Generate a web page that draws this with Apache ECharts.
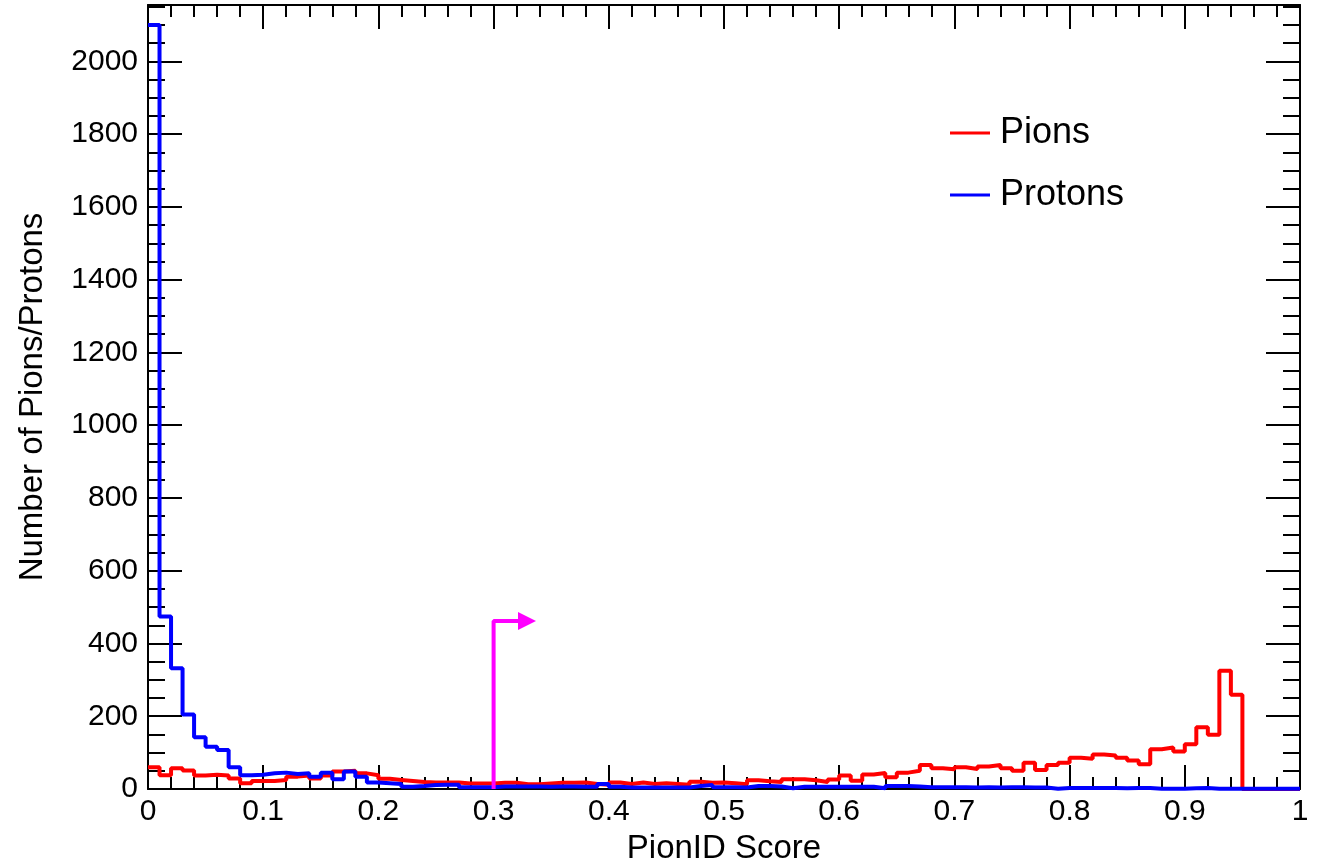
<!DOCTYPE html>
<html>
<head>
<meta charset="utf-8">
<script src="https://cdn.jsdelivr.net/npm/echarts@6/dist/echarts.min.js"></script>
<style>html,body{margin:0;padding:0;background:#fff;}#chart{width:1327px;height:862px;}</style>
</head>
<body>
<div id="chart"></div>
<script>
// ---- data (100 bins of width 0.01 on PionID Score 0..1) ----
const binWidth = 0.01;
const pions = [
  60, 38, 57, 51, 37, 39, 37, 29, 16, 22,
  22, 25, 34, 37, 29, 37, 48, 50, 43, 38,
  28, 25, 22, 19, 18, 18, 18, 15, 15, 15,
  17, 17, 13, 13, 15, 17, 17, 18, 14, 12,
  18, 14, 18, 14, 16, 14, 12, 20, 17, 18,
  16, 13, 24, 21, 19, 27, 27, 24, 19, 26,
  37, 23, 40, 44, 32, 45, 50, 66, 57, 54,
  60, 55, 62, 66, 57, 50, 72, 52, 66, 72,
  86, 83, 95, 92, 86, 78, 68, 109, 114, 103,
  123, 170, 149, 325, 259, 0, 0, 0, 0, 0
];
const protons = [
  2100, 474, 332, 205, 142, 116, 107, 60, 38, 39,
  43, 45, 41, 43, 34, 45, 27, 48, 34, 18,
  16, 14, 6, 8, 11, 12, 12, 5, 5, 5,
  7, 7, 7, 7, 6, 7, 7, 6, 6, 14,
  6, 4, 4, 4, 4, 4, 4, 8, 11, 5,
  5, 4, 8, 8, 7, 2, 6, 6, 6, 6,
  6, 6, 6, 2, 8, 8, 7, 5, 5, 5,
  5, 4, 5, 4, 5, 5, 4, 4, 1, 3,
  3, 3, 3, 3, 2, 3, 3, 1, 1, 1,
  2, 3, 1, 1, 1, 1, 1, 1, 1, 1
];
const seriesNames = ['Pions', 'Protons'];
const cutValue = 0.3;        // PionID cut
const arrowHeight = 462;     // height of the cut marker
const arrowEnd = 0.329;      // x where the arrow head sits
const xTicks = [0, 0.1, 0.2, 0.3, 0.4, 0.5, 0.6, 0.7, 0.8, 0.9, 1];
const yTicks = [0, 200, 400, 600, 800, 1000, 1200, 1400, 1600, 1800, 2000];
const xMax = 1, yMax = 2155;

// ---- helpers ----
const FONT = 'Liberation Sans, Arial, Helvetica, sans-serif';
const xMinor = []; for (let i = 0; i <= 50; i++) xMinor.push(Math.round(i * 2) / 100);
const yMinor = []; for (let v = 0; v <= yMax; v += 50) yMinor.push(v);

function steps(values) {
  const pts = values.map((v, i) => [Math.round(i * binWidth * 100) / 100, v]);
  pts.push([xMax, values[values.length - 1]]);
  return pts;
}

function mkAxis(type, position, ticks, len, showLine, labels, extra) {
  const isX = type === 'x';
  return Object.assign({
    type: 'value',
    position: position,
    min: 0,
    max: isX ? xMax : yMax,
    axisLine: { show: showLine, onZero: false, lineStyle: { color: '#000', width: 2 } },
    axisTick: { show: true, inside: true, length: len, customValues: ticks, lineStyle: { color: '#000', width: 2 } },
    axisLabel: labels ? {
      show: true, customValues: ticks, margin: isX ? 8 : 10,
      fontSize: 30, color: '#000', fontFamily: FONT,
      formatter: v => String(v)
    } : { show: false },
    splitLine: { show: false },
    minorTick: { show: false }
  }, extra || {});
}

const chart = echarts.init(document.getElementById('chart'), null, { renderer: 'canvas' });
chart.setOption({
  animation: false,
  backgroundColor: '#fff',
  grid: { left: 148, right: 27, top: 5, bottom: 73, containLabel: false, outerBoundsMode: 'none' },
  legend: {
    data: seriesNames.map(n => ({ name: n, icon: 'rect' })),
    orient: 'vertical',
    left: 945, top: 110,
    itemWidth: 40, itemHeight: 3, itemGap: 26,
    textStyle: { fontSize: 36, lineHeight: 36, color: '#000', fontFamily: FONT, padding: [0, 0, 0, 5] },
    selectedMode: false
  },
  xAxis: [
    mkAxis('x', 'bottom', xTicks, 24, true, true, {
      name: 'PionID Score', nameLocation: 'middle', nameGap: 43,
      nameTextStyle: { fontSize: 33, color: '#000', fontFamily: FONT }
    }),
    mkAxis('x', 'bottom', xMinor, 12, false, false),
    mkAxis('x', 'top', xTicks, 24, true, false),
    mkAxis('x', 'top', xMinor, 12, false, false)
  ],
  yAxis: [
    mkAxis('y', 'left', yTicks, 34, true, true, {
      name: 'Number of Pions/Protons', nameLocation: 'middle', nameGap: 99,
      nameTextStyle: { fontSize: 33, color: '#000', fontFamily: FONT }
    }),
    mkAxis('y', 'left', yMinor, 17, false, false),
    mkAxis('y', 'right', yTicks, 34, true, false),
    mkAxis('y', 'right', yMinor, 17, false, false)
  ],
  series: [
    {
      name: seriesNames[0], type: 'line', step: 'end', data: steps(pions),
      symbol: 'none', color: '#ff0000',
      lineStyle: { color: '#ff0000', width: 4 }, z: 3
    },
    {
      name: seriesNames[1], type: 'line', step: 'end', data: steps(protons),
      symbol: 'none', color: '#0000ff',
      lineStyle: { color: '#0000ff', width: 4 }, z: 4
    },
    {
      name: 'cut', type: 'line', symbol: 'none', showSymbol: true,
      color: '#ff00ff', lineStyle: { color: '#ff00ff', width: 4 }, z: 5,
      data: [
        [cutValue, 0],
        [cutValue, arrowHeight],
        { value: [arrowEnd, arrowHeight], symbol: 'triangle', symbolSize: [18, 18], symbolRotate: -90,
          itemStyle: { color: '#ff00ff' } }
      ]
    }
  ]
});
</script>
</body>
</html>
